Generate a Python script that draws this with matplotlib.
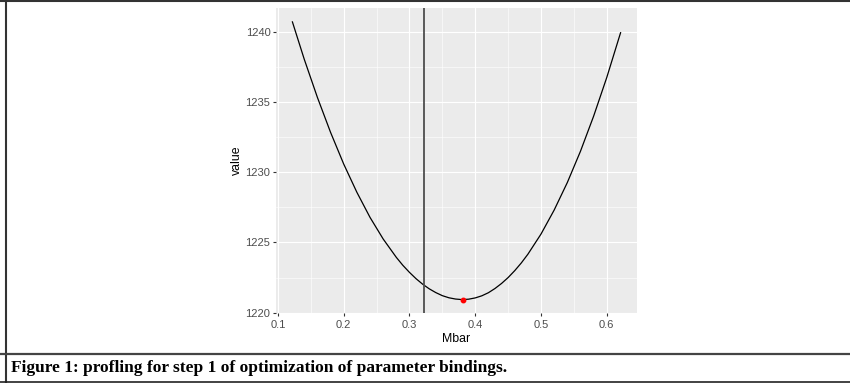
import matplotlib
matplotlib.use("Agg")
import matplotlib.pyplot as plt
from matplotlib.lines import Line2D
from matplotlib.ticker import MultipleLocator

# profile of the objective over Mbar
mbar = [0.122, 0.14, 0.16, 0.18, 0.20, 0.22, 0.24, 0.26, 0.28, 0.29, 0.30,
        0.31, 0.32, 0.33, 0.34, 0.35, 0.36, 0.37, 0.38, 0.39, 0.40, 0.41,
        0.42, 0.43, 0.44, 0.45, 0.46, 0.47, 0.48, 0.50, 0.52, 0.54, 0.56,
        0.58, 0.60, 0.621]
value = [1240.72, 1238.06, 1235.34, 1232.85, 1230.59, 1228.58, 1226.79,
         1225.25, 1223.94, 1223.37, 1222.87, 1222.42, 1222.03, 1221.70,
         1221.43, 1221.21, 1221.06, 1220.97, 1220.93, 1220.96, 1221.05,
         1221.20, 1221.42, 1221.72, 1222.08, 1222.50, 1222.99, 1223.54,
         1224.16, 1225.60, 1227.31, 1229.27, 1231.50, 1234.00, 1236.76,
         1239.95]
best_mbar = 0.381
best_value = 1220.93
start_mbar = 0.3225

x_ticks = [0.1, 0.2, 0.3, 0.4, 0.5, 0.6]
y_ticks = [1220, 1225, 1230, 1235, 1240]
caption = "Figure 1: profling for step 1 of optimization of parameter bindings."

plt.rcParams["font.family"] = ["Liberation Sans", "DejaVu Sans"]

fig = plt.figure(figsize=(8.5, 3.83), dpi=100)
ax = fig.add_axes([0.3247, 0.1815, 0.4247, 0.7976])

ax.set_facecolor("#EBEBEB")
for s in ax.spines.values():
	s.set_visible(False)

ax.plot(mbar, value, color="black", lw=0.9, zorder=3)
ax.axvline(start_mbar, color="#4D4D4D", lw=1.3, zorder=3)
ax.plot([best_mbar], [best_value], "o", color="red", ms=3.2, mec="red", zorder=4)

# ggplot-style expansion of the limits
xr = max(mbar) - min(mbar)
yr = max(value) - min(value)
ax.set_xlim(min(mbar) - 0.05 * xr, max(mbar) + 0.05 * xr)
ax.set_ylim(min(value) - 0.05 * yr, max(value) + 0.05 * yr)

ax.set_xticks(x_ticks)
ax.set_yticks(y_ticks)
ax.set_xticklabels([f"{t:.1f}" for t in x_ticks])
ax.xaxis.set_minor_locator(MultipleLocator(0.05))
ax.yaxis.set_minor_locator(MultipleLocator(2.5))
ax.grid(which="major", color="white", lw=0.8)
ax.grid(which="minor", color="white", lw=0.4)
ax.set_axisbelow(True)
ax.tick_params(which="major", length=2.5, width=0.8, color="#333333",
	labelsize=8, labelcolor="#4D4D4D", pad=1.5)
ax.tick_params(axis="x", which="major", pad=2.5)
ax.tick_params(which="minor", length=0)

ax.set_xlabel("Mbar", fontsize=8.8, labelpad=2)
ax.set_ylabel("value", fontsize=8.8, labelpad=2)

# frame and caption box
H = 383.0
W = 850.0
fig.add_artist(Line2D([0, 1], [1 - 1 / H, 1 - 1 / H], color="#333333", lw=1.5))
fig.add_artist(Line2D([5.8 / W, 5.8 / W], [0, 1], color="#333333", lw=1.5))
fig.add_artist(Line2D([0, 1], [1 - 353.5 / H, 1 - 353.5 / H], color="#444444", lw=1.6))
fig.add_artist(Line2D([0, 1], [1 - 381.5 / H, 1 - 381.5 / H], color="#222222", lw=1.2))
fig.text(11 / W, 1 - 368 / H, caption, fontsize=12.5, fontweight="bold",
	family=["Liberation Serif", "DejaVu Serif"], va="center", ha="left")

fig.savefig("out.png", dpi=100)
